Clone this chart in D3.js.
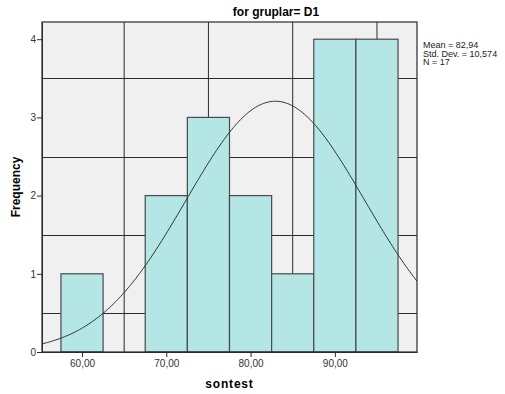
<!DOCTYPE html>
<html>
<head>
<meta charset="utf-8">
<script src="https://cdn.jsdelivr.net/npm/d3@7"></script>
<style>
  body { margin:0; background:#fff; }
  text { font-family: "Liberation Sans", Arial, sans-serif; }
</style>
</head>
<body>
<div id="chart"></div>
<script>
// histogram bins (lower, upper) and counts
var binStarts = [57.5, 62.5, 67.5, 72.5, 77.5, 82.5, 87.5, 92.5];
var binWidth = 5;
var counts = [1, 0, 2, 3, 2, 1, 4, 4];
var xTicks = [60, 70, 80, 90];
var yTicks = [0, 1, 2, 3, 4];
var xGrid = [65, 75, 85, 95];
var yGrid = [0.5, 1.5, 2.5, 3.5];
var stats = {mean: 82.94, sd: 10.574, n: 17};
var statLines = ['Mean = 82,94', 'Std. Dev. = 10,574', 'N = 17'];

var W = 505, H = 394;
var m = {left:42, right:88, top:22, bottom:42};
var pw = W - m.left - m.right, ph = H - m.top - m.bottom;

var svg = d3.select('#chart').append('svg')
    .attr('width', W).attr('height', H);
var g = svg.append('g').attr('transform', 'translate(' + m.left + ',' + m.top + ')');

var x = d3.scaleLinear().domain([55.25, 99.75]).range([0, pw]);
var y = d3.scaleLinear().domain([0, 4.22]).range([ph, 0]);
var fmt = function(d) { return d3.format('.2f')(d).replace('.', ','); };

g.append('defs').append('clipPath').attr('id', 'clip')
    .append('rect').attr('width', pw).attr('height', ph);

g.append('rect').attr('width', pw).attr('height', ph).attr('fill', '#f0f0f0');

// grid
g.selectAll('.vg').data(xGrid).enter().append('line')
    .attr('x1', d => x(d)).attr('x2', d => x(d))
    .attr('y1', 0).attr('y2', ph)
    .attr('stroke', '#2a2a2a').attr('stroke-width', 1);
g.selectAll('.hg').data(yGrid).enter().append('line')
    .attr('x1', 0).attr('x2', pw)
    .attr('y1', d => Math.round(y(d)) + 0.5).attr('y2', d => Math.round(y(d)) + 0.5)
    .attr('stroke', '#2a2a2a').attr('stroke-width', 1);

// bars
g.selectAll('.bar').data(counts.map((c, i) => ({x0: binStarts[i], c: c})).filter(d => d.c > 0))
    .enter().append('rect')
    .attr('x', d => x(d.x0))
    .attr('width', d => x(d.x0 + binWidth) - x(d.x0))
    .attr('y', d => y(d.c))
    .attr('height', d => y(0) - y(d.c))
    .attr('fill', '#b4e6e6')
    .attr('stroke', '#4a4a4a')
    .attr('stroke-width', 1.2);

// normal curve
var xs = d3.range(0, 201).map(i => 55.25 + i * (99.75 - 55.25) / 200);
var scaleN = stats.n * binWidth / (stats.sd * Math.sqrt(2 * Math.PI));
var curve = d3.line()
    .x(d => x(d))
    .y(d => y(scaleN * Math.exp(-0.5 * Math.pow((d - stats.mean) / stats.sd, 2))));
g.append('path').datum(xs)
    .attr('d', curve)
    .attr('fill', 'none')
    .attr('stroke', '#333')
    .attr('stroke-width', 1)
    .attr('clip-path', 'url(#clip)');

// frame
g.append('rect').attr('width', pw).attr('height', ph)
    .attr('fill', 'none').attr('stroke', '#2a2a2a').attr('stroke-width', 1.2);

// axes
var xa = g.append('g').attr('transform', 'translate(0,' + ph + ')')
    .call(d3.axisBottom(x).tickValues(xTicks).tickFormat(fmt).tickSize(5).tickSizeOuter(0));
var ya = g.append('g')
    .call(d3.axisLeft(y).tickValues(yTicks).tickFormat(d3.format('d')).tickSize(5).tickSizeOuter(0));
[xa, ya].forEach(function(a) {
    a.select('.domain').attr('stroke', '#2a2a2a');
    a.selectAll('.tick line').attr('stroke', '#2a2a2a');
    a.selectAll('.tick text').attr('fill', '#333').style('font-size', '10px')
        .style('font-family', '"Liberation Sans", Arial, sans-serif');
});
ya.selectAll('.tick text').attr('x', -6);
xa.selectAll('.tick text').attr('y', 8);

// titles
svg.append('text').attr('x', 276).attr('y', 16)
    .attr('text-anchor', 'middle').style('font-size', '12px').style('font-weight', 'bold')
    .text('for gruplar= D1');
svg.append('text').attr('x', m.left + pw / 2).attr('y', 388)
    .attr('text-anchor', 'middle').style('font-size', '12px').style('font-weight', 'bold')
    .style('letter-spacing', '0.8px')
    .text('sontest');
svg.append('text').attr('transform', 'translate(20,' + 187 + ') rotate(-90)')
    .attr('text-anchor', 'middle').style('font-size', '12px').style('font-weight', 'bold')
    .text('Frequency');

svg.selectAll('.stat').data(statLines).enter().append('text')
    .attr('x', 423).attr('y', (d, i) => 48 + i * 8.5)
    .style('font-size', '9px').attr('fill', '#222')
    .text(d => d);
</script>
</body>
</html>
